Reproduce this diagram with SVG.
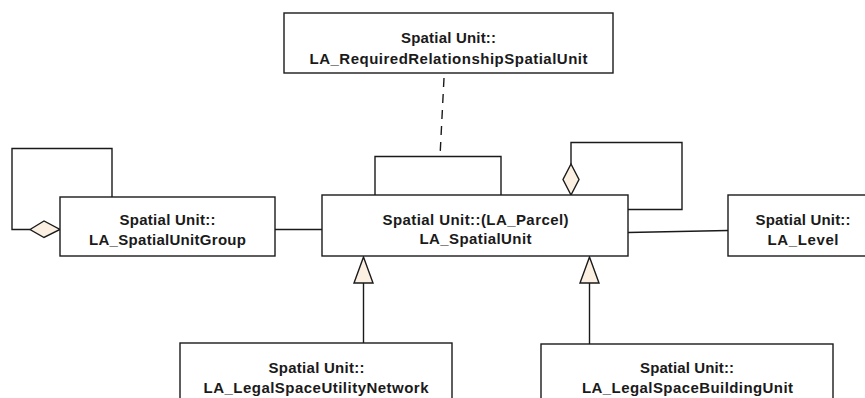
<svg xmlns="http://www.w3.org/2000/svg" width="865" height="398" viewBox="0 0 865 398">
<style>
.box{fill:#ffffff;stroke:#1a1a1a;stroke-width:1.4}
.t{font-family:"Liberation Sans",Arial,sans-serif;font-weight:bold;font-size:15px;fill:#1a1a1a;text-anchor:middle}
.c{fill:none;stroke:#1a1a1a;stroke-width:1.4}
.d{fill:none;stroke:#1a1a1a;stroke-width:1.4;stroke-dasharray:9 7}
.head{fill:#fbf0e2;stroke:#1a1a1a;stroke-width:1.4;stroke-linejoin:miter}
</style>
<rect width="865" height="398" fill="#ffffff"/>
<g id="connectors">
  <polyline class="c" points="112,197 112,148.5 12,148.5 12,229.5 30,229.5"/>
  <polygon class="head" points="30,229.5 44,221 60,229.5 44,237.5"/>
  <line class="c" x1="275" y1="229.5" x2="322" y2="229.5"/>
  <line class="c" x1="628" y1="232.5" x2="728" y2="230.5"/>
  <polyline class="c" points="571,164 571,142.5 682,142.5 682,209.5 628,209.5"/>
  <polygon class="head" points="571,164 579,179.5 571,195 563,179.5"/>
  <polyline class="c" points="375,195 375,156.5 501,156.5 501,195"/>
  <line class="d" x1="444" y1="78" x2="440" y2="156.5"/>
  <line class="c" x1="363.5" y1="343" x2="363.5" y2="283"/>
  <polygon class="head" points="363.5,257 354,283 373,283"/>
  <line class="c" x1="589.5" y1="344" x2="589.5" y2="283"/>
  <polygon class="head" points="589.5,257 580,283 599,283"/>
</g>
<g id="LA_RequiredRelationshipSpatialUnit">
  <rect class="box" x="284" y="13" width="329" height="60"/>
  <text class="t" x="448.5" y="43" textLength="95" lengthAdjust="spacing">Spatial Unit::</text>
  <text class="t" x="448.5" y="64" textLength="278" lengthAdjust="spacing">LA_RequiredRelationshipSpatialUnit</text>
</g>
<g id="LA_SpatialUnitGroup">
  <rect class="box" x="60" y="197" width="215" height="59"/>
  <text class="t" x="167.5" y="225" textLength="96" lengthAdjust="spacing">Spatial Unit::</text>
  <text class="t" x="167.5" y="245" textLength="157" lengthAdjust="spacing">LA_SpatialUnitGroup</text>
</g>
<g id="LA_SpatialUnit">
  <rect class="box" x="322" y="195" width="306" height="61"/>
  <text class="t" x="475.5" y="225" textLength="186" lengthAdjust="spacing">Spatial Unit::(LA_Parcel)</text>
  <text class="t" x="475.5" y="244" textLength="112" lengthAdjust="spacing">LA_SpatialUnit</text>
</g>
<g id="LA_Level">
  <rect class="box" x="728" y="195" width="150" height="61"/>
  <text class="t" x="803" y="225" textLength="95" lengthAdjust="spacing">Spatial Unit::</text>
  <text class="t" x="803" y="245" textLength="71" lengthAdjust="spacing">LA_Level</text>
</g>
<g id="LA_LegalSpaceUtilityNetwork">
  <rect class="box" x="180" y="343" width="272" height="75"/>
  <text class="t" x="316.5" y="373" textLength="96" lengthAdjust="spacing">Spatial Unit::</text>
  <text class="t" x="316" y="393" textLength="225" lengthAdjust="spacing">LA_LegalSpaceUtilityNetwork</text>
</g>
<g id="LA_LegalSpaceBuildingUnit">
  <rect class="box" x="541" y="344" width="292" height="75"/>
  <text class="t" x="687" y="373" textLength="94" lengthAdjust="spacing">Spatial Unit::</text>
  <text class="t" x="687.5" y="393" textLength="211" lengthAdjust="spacing">LA_LegalSpaceBuildingUnit</text>
</g>
</svg>
